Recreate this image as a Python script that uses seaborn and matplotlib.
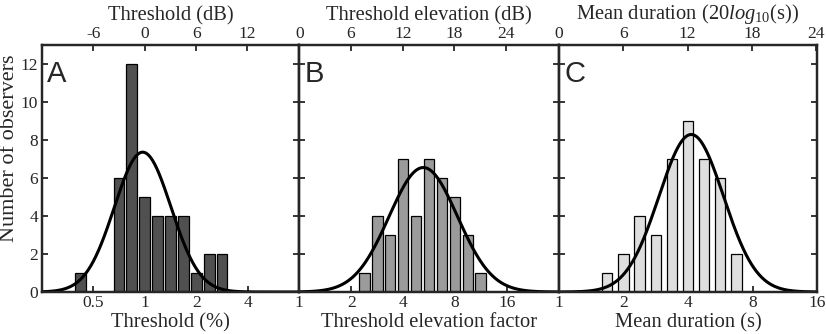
import numpy as np
import pandas as pd
import matplotlib
matplotlib.use("Agg")
import matplotlib.pyplot as plt
import seaborn as sns

# ---- data (bin centres in log2 units, counts) ----
a_bins = [-1.25, -0.5, -0.25, 0.0, 0.25, 0.5, 0.75, 1.0, 1.25, 1.5]
a_counts = [1, 6, 12, 5, 4, 4, 4, 1, 2, 2]
b_bins = [1.25, 1.5, 1.75, 2.0, 2.25, 2.5, 2.75, 3.0, 3.25, 3.5]
b_counts = [1, 4, 3, 7, 4, 7, 6, 5, 3, 1]
c_bins = [0.75, 1.0, 1.25, 1.5, 1.75, 2.0, 2.25, 2.5, 2.75]
c_counts = [1, 2, 4, 3, 7, 9, 7, 6, 2]

# fitted normal curves (mean, sd in log2 units, peak height)
a_fit = (-0.04, 0.55, 7.36)
b_fit = (2.39, 0.66, 6.55)
c_fit = (2.05, 0.50, 8.29)

a_xticks = [0.5, 1, 2, 4]
a_xticklabels = ["0.5", "1", "2", "4"]
b_xticks = [1, 2, 4, 8, 16]
b_xticklabels = ["1", "2", "4", "8", "16"]
c_xticks = [1, 2, 4, 8, 16]
c_xticklabels = ["1", "2", "4", "8", "16"]
a_dbticks = [-6, 0, 6, 12]
b_dbticks = [0, 6, 12, 18, 24]
c_dbticks = [0, 6, 12, 18, 24]
yticks = [0, 2, 4, 6, 8, 10, 12]

sns.set_style("ticks")
plt.rcParams['font.family'] = ['Liberation Serif', 'DejaVu Serif']
plt.rcParams['mathtext.fontset'] = 'custom'
plt.rcParams['mathtext.rm'] = 'Liberation Serif'
plt.rcParams['mathtext.it'] = 'Liberation Serif:italic'

fig = plt.figure(figsize=(8.26, 3.34), dpi=100)
H = 247 / 334
B0 = 42 / 334
axA = fig.add_axes([41.7 / 826, B0, 257.6 / 826, H])
axB = fig.add_axes([299.3 / 826, B0, 259.4 / 826, H])
axC = fig.add_axes([558.7 / 826, B0, 258.6 / 826, H])

DB = 20 * np.log10(2)
TICKFS = 12.5
LABFS = 14.8

panels = [
    (axA, a_bins, a_counts, a_fit, "#505050", (-2, 3), a_xticks, a_xticklabels,
     a_dbticks, "Threshold (%)", "Threshold (dB)", "A", 0.84, 4),
    (axB, b_bins, b_counts, b_fit, "#9b9b9b", (0, 5), b_xticks, b_xticklabels,
     b_dbticks, "Threshold elevation factor", "Threshold elevation (dB)", "B", 0.83, 4),
    (axC, c_bins, c_counts, c_fit, "#dedede", (0, 4), c_xticks, c_xticklabels,
     c_dbticks, "Mean duration (s)", r"Mean duration (20$\mathit{log}_{10}$(s))", "C", 0.64, 5),
]

for (ax, bins, counts, fit, color, xl, xt, xtl, dbt, xlabel, toplabel, letter, w, tpad) in panels:
    df = pd.DataFrame({"x": bins, "n": counts})
    sns.barplot(data=df, x="x", y="n", native_scale=True, width=w, color=color,
                saturation=1, edgecolor="black", linewidth=0.9, errorbar=None, ax=ax)
    xs = np.linspace(xl[0], xl[1], 400)
    mu, sd, pk = fit
    ys = pk * np.exp(-0.5 * ((xs - mu) / sd) ** 2)
    sns.lineplot(x=xs, y=ys, color="black", linewidth=2.2, ax=ax)
    ax.set_xlim(*xl)
    ax.set_ylim(0, 13)
    ax.set_xticks(np.log2(xt))
    ax.set_xticklabels(xtl)
    ax.set_yticks(yticks)
    ax.set_xlabel(xlabel, fontsize=LABFS, labelpad=1)
    ax.set_ylabel("")
    ax.tick_params(axis="both", direction="in", length=4.5, width=1.3, labelsize=TICKFS,
                   right=True, top=False, pad=2.5)
    for s in ax.spines.values():
        s.set_visible(True)
        s.set_linewidth(1.6)
        s.set_color("black")
    ax.text(0.022, 0.94, letter, transform=ax.transAxes, ha="left", va="top",
            fontsize=21, family="Liberation Sans")
    top = ax.twiny()
    top.set_xlim(xl[0] * DB, xl[1] * DB)
    top.set_xticks(dbt)
    top.set_xticklabels([str(d) for d in dbt])
    top.tick_params(axis="x", direction="in", length=4.5, width=1.3, labelsize=TICKFS, pad=2)
    top.set_xlabel(toplabel, fontsize=LABFS, labelpad=tpad)
    for s in top.spines.values():
        s.set_linewidth(1.6)

axA.set_ylabel("Number of observers", fontsize=16)
axA.yaxis.set_label_coords(-0.088, 0.58)
axB.set_yticklabels([])
axC.set_yticklabels([])

fig.savefig("out.png", dpi=100)
